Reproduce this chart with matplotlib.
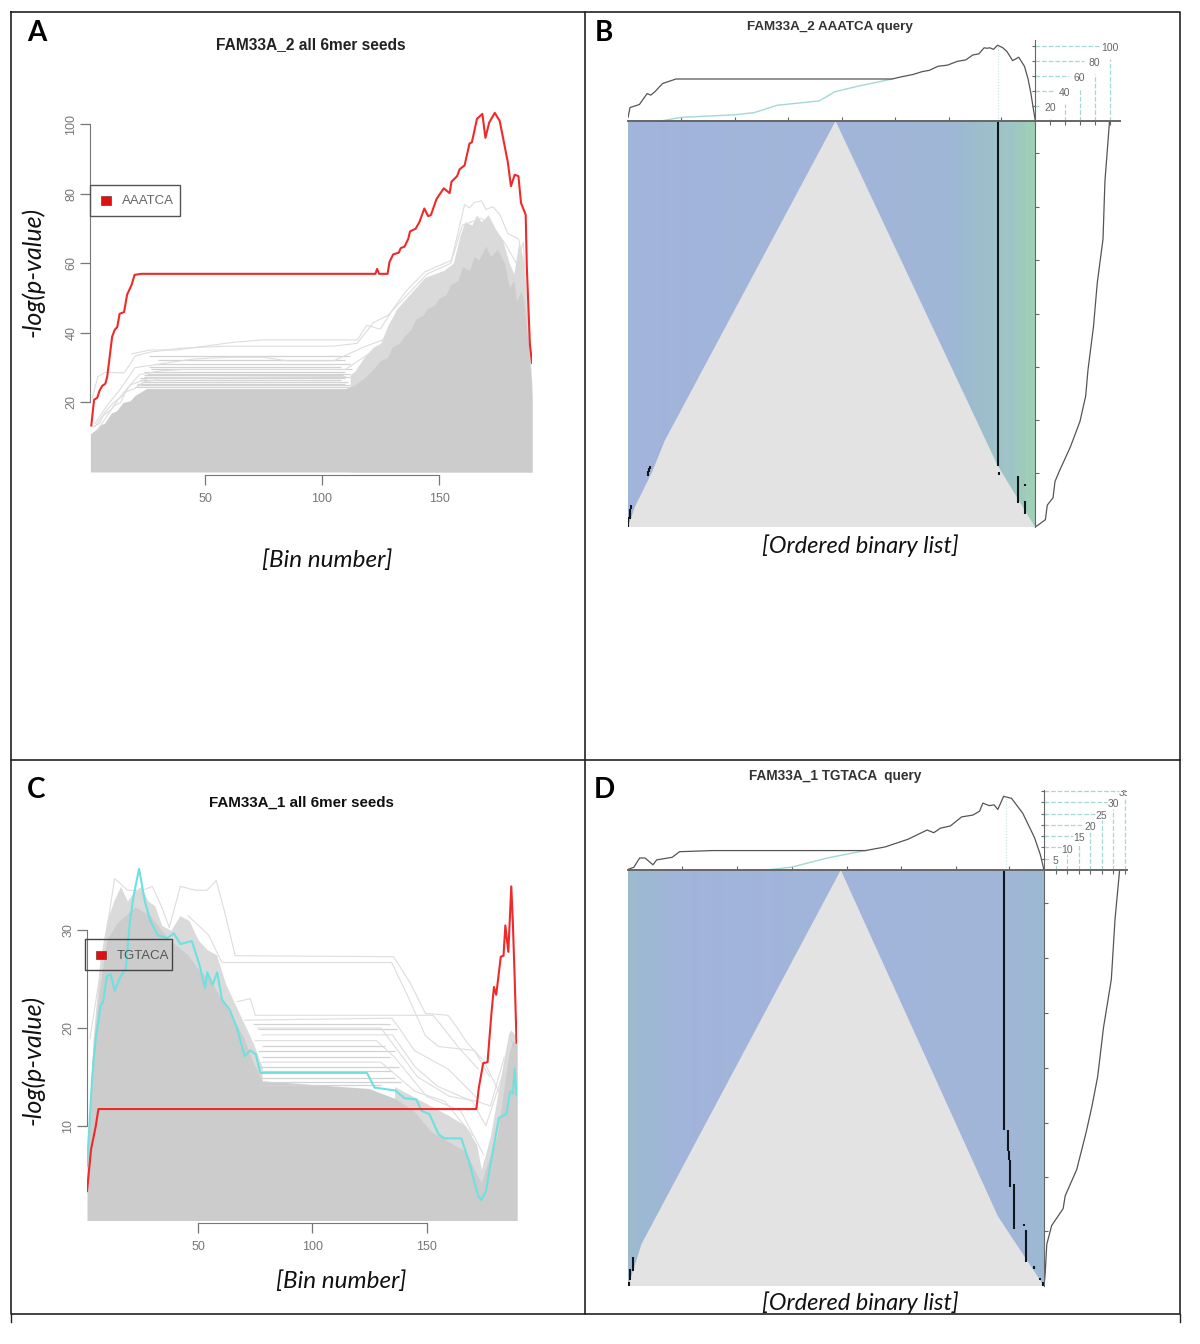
import matplotlib
matplotlib.use('Agg')
from matplotlib import pyplot as plt
from matplotlib.colors import LinearSegmentedColormap
from matplotlib.patches import Rectangle

W, H = 1200, 1344
plt.rcParams['font.family'] = ['Liberation Sans', 'DejaVu Sans']

# panel A, red seed AAATCA
a_red_x = [1.4, 2.6, 3.9, 5, 6.1, 7.4, 8.2, 9.3, 10.3, 11.4, 12.5, 13.5, 15.4, 16.7, 18.6, 19.9, 22.7, 122.8, 123.5, 124.4,
           128, 128.8, 130.4, 132.8, 133.6, 135.2, 136.8, 137.6, 140, 141.6, 143.7, 145.3, 146.5, 148.9, 152, 154.5, 155.3,
           157.7, 158.8, 160.9, 163, 164, 166.2, 168.5, 169.8, 171.4, 173.8, 175.9, 177.8, 179.4, 180.7, 182.3, 183.9, 185,
           187, 187.5, 188.8, 189.7]
a_red_y = [13.4, 20.8, 21.3, 23.5, 24.8, 25.4, 27.4, 33.4, 38.9, 40.9, 41.7, 45.5, 46, 51, 53.8, 56.7, 57, 57, 58.4, 57,
           57, 60.4, 62.6, 63.1, 64.4, 64.8, 67, 69.2, 70, 71.9, 75.8, 73.6, 73.9, 78.5, 81.6, 80.2, 83.5,
           85.1, 87.1, 88.2, 94.5, 94.8, 101.6, 103, 96.1, 100.5, 103.3, 101, 94.5, 89, 82.2, 85.5, 85.1, 77.4,
           74, 58.7, 36.7, 31.4]

# panel A, solid part of the grey seeds
a_env_x = [1, 3, 5, 7, 10, 12, 15, 18, 20, 25, 110, 114, 118, 121, 125, 128, 130, 133, 135, 138, 140, 143, 145, 148, 150, 153, 155,
           158, 160, 163, 165, 167, 170, 172, 175, 178, 180, 182, 183, 185, 186, 187, 188, 189.7]
a_env_y = [11, 12, 13.5, 14, 17, 17.5, 20, 20.5, 22, 24, 24, 25, 27, 29, 32, 33, 36, 37, 39, 41, 44, 45, 47, 48, 50, 51, 54,
           55, 59, 58, 62, 61, 65, 62, 64, 60, 53, 55, 49, 52, 50, 44, 38, 22]

# panel A, the fuzz of close lines above the solid part
a_fuzz_x = [112, 114, 118, 122, 125, 128, 132, 136, 140, 144, 148, 152, 156, 159, 161, 164, 166, 168, 171, 174, 177, 180, 182, 184, 186, 188, 189.7]
a_fuzz_y = [28, 29, 33, 36, 37, 42, 47, 50, 53, 56, 57, 58, 60, 68, 72, 71, 74, 72, 74, 70, 67, 60, 57, 66, 60, 42, 25]

# panel A, single grey seeds
a_grey1_x = [18.6, 26.7, 37.9, 62, 74.9, 115.1, 119.1, 124.8, 131.2, 136, 144, 155.3, 160.9, 163, 165, 168.2, 170, 173, 176, 179.4, 182.6, 184, 185.9, 189.4]
a_grey1_y = [34, 35.1, 35.1, 37.3, 38, 38, 42.2, 41.1, 47.7, 52.1, 57.6, 60.9, 76.9, 76, 77.5, 78, 75.5, 76.3, 74, 68.6, 67.5, 67, 60.9, 31.2]
a_grey2_x = [1.8, 4.2, 7.4, 15.4, 20.3, 26.7, 39.5, 58.8, 105, 115, 122, 128, 135, 145, 155, 160, 168, 172, 178, 183, 186, 188]
a_grey2_y = [21.3, 27.4, 28.7, 28.5, 33.4, 34.5, 35.6, 36.2, 36.2, 37, 43, 45, 50, 57, 60, 71, 73, 71, 66, 60, 66, 40]
a_grey3_x = [3, 8, 14, 20, 30, 45, 60, 75, 85, 105, 118, 126, 135]
a_grey3_y = [14, 19, 24, 30, 31, 32.5, 33, 33, 32, 32, 36, 38, 46]
a_grey4_x = [2, 5, 7, 11, 15, 18, 22, 30, 40, 110, 120]
a_grey4_y = [13, 14, 17, 20, 22, 25, 28, 29, 29.5, 29.5, 34]
a_grey5_x = [3, 6, 10, 13, 18, 22, 26, 110]
a_grey5_y = [13, 16, 18, 21, 25, 26, 27, 27.5]
a_grey6_x = [4, 8, 11, 14, 16, 20, 24, 30]
a_grey6_y = [12, 16, 19, 20, 23, 24, 26, 26.5]
a_flat_y = [33.4, 32.2, 31, 30.3, 29.7, 28.9, 28.2, 27.8, 27.3, 26.9, 26.4, 25.9, 25.4, 24.9, 24.4]
a_flat_start = [26, 30, 28, 26, 27, 24, 25, 24, 24, 22, 22, 23, 21, 21, 20]
a_flat_end = [112, 110, 112, 108, 113, 110, 112, 109, 112, 110, 108, 111, 110, 112, 112]

# panel C, red seed TGTACA
c_red_x = [1.3, 3.1, 5.1, 6.3, 171.8, 172.9, 174.8, 176.7, 178.4, 179.5, 180.5, 182.5, 183.7, 184.5, 185.8, 187.1, 187.8, 188.6, 189.4]
c_red_y = [3.3, 7.6, 9.9, 11.7, 11.7, 13.9, 16.4, 16.5, 21.5, 24.2, 23.4, 27.3, 27.4, 30.5, 27.8, 34.5, 30.7, 25, 18.5]

# panel C, cyan seed
c_cyan_x = [1.3, 3.5, 5.1, 7.3, 8.4, 10, 11.7, 13.4, 15.8, 18.3, 20, 21.6, 24.1, 26.6, 29, 32.3, 36.5, 39.3, 42.2, 47.2, 50.5,
            53, 54, 56.3, 58.3, 60.4, 63.7, 67, 70.3, 72.8, 75.2, 77.2, 123.9, 127.2, 136.3, 140.4, 145.4, 147.9, 151.2,
            155.3, 157.8, 165.2, 168.5, 172.6, 173.9, 175.9, 178.4, 181.7, 185, 186.6, 187.8, 188.6, 189.4]
c_cyan_y = [5.9, 14.7, 18.9, 22.3, 22.7, 25.3, 25.5, 23.8, 25.2, 26.1, 30.7, 33.4, 36.3, 33, 31, 29.5, 29.2, 29.7, 28.6, 28.9, 26.5,
            24.1, 25.7, 24.4, 25.7, 22.9, 21.9, 20, 17.1, 17.7, 17.3, 15.4, 15.4, 13.9, 13.6, 12.8, 12.7, 11.5, 11.2,
            9.1, 8.7, 8.7, 6.4, 2.8, 2.4, 3.2, 6.6, 10.8, 11.2, 13.5, 13.3, 15.8, 13.1]

# panel C, solid part of the grey seeds
c_env_x = [1.3, 3.5, 6.8, 10, 14.2, 22.4, 29, 37.3, 45.5, 50, 55, 60, 65, 70, 74, 78, 124.8, 136, 144, 152, 160, 167, 172, 174, 178, 181, 184, 187, 189.6]
c_env_y = [5.9, 17, 24, 29, 30.7, 32.4, 31.5, 29, 27.5, 26, 25, 23, 21, 19, 16.5, 14.6, 13.8, 12.8, 11.6, 9.4, 8.3, 7.4, 5, 4.2, 7, 9, 14, 18.8, 18.4]

# panel C, the fuzz of close lines above the solid part
c_fuzz_x = [2, 4, 7, 10, 13, 16, 19, 22, 25, 28, 31, 34, 38, 42, 46, 50, 54, 58, 62, 66, 70, 74, 78]
c_fuzz_y = [8, 19, 27, 31, 33, 34.5, 33, 34, 34.5, 33, 32.5, 30.5, 30, 31.5, 31, 29, 28, 27.5, 24.5, 22.5, 20.5, 18.5, 16]
c_fuzz2_x = [136, 144, 152, 160, 167, 172, 174, 178, 181, 184, 186, 187, 189.6]
c_fuzz2_y = [14, 13, 12, 11, 10, 8, 5.5, 9, 13, 17, 19.5, 19.8, 19]

# panel C, single grey seeds
c_grey1_x = [2.6, 13.4, 19.1, 25.7, 29.9, 34, 37.3, 42.2, 48.8, 53.8, 57.9, 62, 66.2, 135.5, 142.9, 149.5, 159.4, 163.5, 167.7, 175.1, 182.5]
c_grey1_y = [18.9, 35.3, 34.1, 34.1, 34.5, 32.4, 30.3, 34.5, 34.1, 34.1, 35.1, 31.5, 27.4, 27.3, 24.6, 21.5, 21.3, 20, 18.5, 16.6, 13.1]
c_grey2_x = [45.5, 54.6, 60.4, 134.7, 142.1, 149.5, 155.3, 171, 177.6]
c_grey2_y = [31.5, 29.5, 26.7, 26.7, 23.1, 19.2, 18.1, 17.7, 15]
c_grey3_x = [67, 72.8, 75, 152.8, 156, 164.4, 172.6]
c_grey3_y = [22.7, 23, 21.3, 21.3, 20.4, 17.9, 15.8]
c_grey4_x = [70.3, 134.7, 138, 144.6, 159.4, 171.8]
c_grey4_y = [20.8, 21, 20, 17.7, 15.8, 12.9]
c_grey5_x = [76, 130, 138, 146, 160, 172, 178, 184]
c_grey5_y = [20, 20, 17.5, 15, 13, 12.5, 12, 17]
c_grey6_x = [78, 135, 145, 155, 170, 176, 183, 188]
c_grey6_y = [19.3, 19.3, 16, 14, 12.5, 10, 15, 19]
c_grey7_x = [75, 128, 136, 150, 165, 175]
c_grey7_y = [18.7, 18.7, 17, 13, 11.5, 7]
c_grey8_x = [78, 130, 145, 158, 170]
c_grey8_y = [16.5, 16.5, 13.5, 12.5, 9]
c_flat_y = [20.4, 19.9, 18.2, 17.6, 17, 16, 15.6, 14.9, 14.5, 14.2]
c_flat_start = [74, 76, 78, 76, 78, 76, 78, 76, 78, 76]
c_flat_end = [134, 137, 132, 136, 134, 138, 135, 136, 139, 130]

# panel B
b_top_x = [0, .005, .028, .047, .056, .066, .085, .118, .649, .668, .7, .724, .74, .762, .785, .809, .83, .847, .862, .875, .882, .889, .898, .908, .92, .931, .945, .96, .974, .983, .99, 1]
b_top_y = [4.9, 18, 22, 36.6, 34.5, 39, 50, 56, 56, 58.5, 62, 66, 67.5, 73, 74.5, 79.5, 81.5, 88, 89.5, 97.6, 97, 97.6, 95.5, 101, 98, 92.7, 80.5, 85, 73, 56, 36.6, 2.4]
b_cyan_x = [.08, .132, .263, .31, .367, .47, .508, .564, .649]
b_cyan_y = [0, 4.9, 8.3, 11.2, 21, 26.8, 39, 46.3, 56]
b_side_val = [100, 93.8, 91.2, 83.5, 78.4, 71, 68, 60.3, 47.4, 32, 26.8, 24.2, 16.5, 13.9, 3.6, 0]
b_side_pos = [0, .148, .291, .399, .507, .614, .677, .74, .803, .865, .888, .928, .946, .982, .996, 1]
b_tri_x = [.51, .091, .058, .017, 0, 1, .908]
b_tri_y = [0, .786, .867, .95, 1, 1, .848]
b_ticks = [20, 40, 60, 80, 100]
b_stripes = [.08, .02, .1, .04, .12, .05, .14, .06, .12, .07, .18, .1, .2, .14, .22, .16, .14, .1, .12, .14, .2, .16,
             .22, .18, .24, .2, .28, .24, .3, .26, .32, .3, .45, .55, .6, .62, .7, .72, .85, .95]
b_marks_x = [.908, .958, .976, .976, .912, .049, .052, .054, .001, .004, .007]
b_marks_top = [0, .874, .937, .895, .865, .862, .855, .85, .975, .955, .945]
b_marks_bot = [.85, .942, .969, .9, .872, .875, .865, .857, 1, .98, .955]

# panel D
d_top_x = [0, .014, .028, .041, .06, .069, .106, .124, .203, .571, .618, .673, .7, .719, .735, .751, .775, .802, .829, .845, .853, .868, .88, .889, .903, .922, .949, .977, .991, 1]
d_top_y = [.3, 1.2, 5.3, 5.3, 2.3, 4.5, 5.6, 8.1, 8.6, 8.6, 10.2, 13.6, 16, 17.7, 16.5, 18.5, 19.5, 23.5, 24.3, 26, 29.6, 28.5, 28.8, 26.8, 32.6, 31.7, 25.1, 14.4, 6.9, 0]
d_cyan_x = [.069, .33, .392, .479, .571]
d_cyan_y = [0, 0, 1.2, 5.3, 8.6]
d_side_val = [32.8, 30.8, 29.2, 25.8, 23.3, 20.8, 18.3, 14.2, 9.2, 8.3, 3.3, 1.2, .5, 0]
d_side_pos = [0, .119, .263, .379, .496, .568, .63, .72, .783, .814, .855, .9, .971, 1]
d_tri_x = [.5115, .032, .015, 0, 1, .889]
d_tri_y = [0, .9, .955, 1, 1, .832]
d_ticks = [5, 10, 15, 20, 25, 30, 35]
d_stripes = [.55, .5, .45, .3, .15, .1, .05, .12, .04, .1, .06, .12, .03, .1, .05, .12, .08, .1, .06, .08, .1, .12,
             .14, .1, .12, .08, .14, .1, .16, .18, .2, .22, .24, .28, .2, .22, .3, .35, .42, .5]
d_marks_x = [.905, .914, .917, .919, .928, .952, .957, .975, .99, .998, .012, .005, .002]
d_marks_top = [0, .626, .675, .698, .756, .85, .865, .952, .98, .99, .93, .96, .99]
d_marks_bot = [.626, .675, .698, .761, .862, .855, .943, .958, .985, 1, .965, .985, 1]

# tick places along the ordered list
list_ticks = [.079, .211, .343, .476, .607, .737, .868]

stripe_map = LinearSegmentedColormap.from_list('stripes', ['#a2b3dc', '#9db8d2', '#9fd2b4'])


def px_axes(fig, x0, y0, x1, y1, **kw):
    # axes box given in pixels from the top left corner
    return fig.add_axes([x0 / W, 1 - y1 / H, (x1 - x0) / W, (y1 - y0) / H], **kw)


def seed_panel(box, xlim, ylim, xticks, yticks, env, fuzz, greys, flat, red, cyan=None):
    ax = px_axes(fig, *box)
    ax.patch.set_alpha(0)
    for fx, fy in fuzz:
        ax.fill_between(fx, 0, fy, color='#dadada', lw=0)
    ax.fill_between(env[0], 0, env[1], color='#cccccc', lw=0)
    ax.hlines(flat[0], flat[1], flat[2], color='#d2d2d2', lw=0.9)
    for gx, gy in greys:
        ax.plot(gx, gy, color='#dddddd', lw=0.8)
    if cyan is not None:
        ax.plot(cyan[0], cyan[1], color='#6fe0e0', lw=1.5)
    ax.plot(red[0], red[1], color='#ee2a2a', lw=1.5)
    ax.set_xlim(*xlim)
    ax.set_ylim(*ylim)
    ax.set_xticks(xticks)
    ax.set_yticks(yticks)
    ax.tick_params(colors='#777777', labelsize=9, length=7, width=0.9)
    ax.tick_params(axis='x', pad=6)
    ax.tick_params(axis='y', pad=2)
    plt.setp(ax.get_yticklabels(), rotation=90, va='center')
    for s in ['top', 'right']:
        ax.spines[s].set_visible(False)
    ax.spines['left'].set_bounds(yticks[0], yticks[-1])
    ax.spines['bottom'].set_bounds(xticks[0], xticks[-1])
    ax.spines['bottom'].set_position(('outward', 2))
    ax.spines['left'].set_color('#777777')
    ax.spines['bottom'].set_color('#777777')
    return ax


def query_panel(heat, top_h, corner_w, ymax, xmax, stripes, tri, top, cyan, side, ticks, marks, peak, gaps, lab_y):
    x0, y0, x1, y1 = heat
    ax = px_axes(fig, x0, y0, x1, y1)
    edges = [i / len(stripes) for i in range(len(stripes) + 1)]
    ax.pcolormesh(edges, [0, 1], [stripes], cmap=stripe_map, vmin=0, vmax=1)
    ax.fill(tri[0], tri[1], color='#e3e3e3', lw=0)
    ax.vlines(marks[0], marks[1], marks[2], color='#10141c', lw=1.5)
    ax.set_xlim(0, 1)
    ax.set_ylim(1, 0)
    ax.axis('off')

    # running score on top
    at = px_axes(fig, x0, y0 - top_h, x1, y0)
    at.plot(cyan[0], cyan[1], color='#a4d8d4', lw=1)
    at.plot(top[0], top[1], color='#555555', lw=0.9)
    at.vlines(peak, 0, max(top[1]), color='#bfe6e2', lw=0.8, linestyles=':')
    at.set_xlim(0, 1)
    at.set_ylim(0, ymax)
    at.set_yticks([])
    at.set_xticks([.13, .262, .394, .527, .657, .788, .917])
    at.set_xticklabels([])
    at.tick_params(axis='x', direction='in', length=3, color='#666666', width=0.8)
    for s in ['top', 'left', 'right']:
        at.spines[s].set_visible(False)
    at.spines['bottom'].set_color('#666666')
    at.spines['bottom'].set_linewidth(1.4)
    at.patch.set_alpha(0)

    # running score at the side
    az = px_axes(fig, x1, y0, x1 + corner_w, y1)
    az.plot(side[0], side[1], color='#555555', lw=0.9)
    az.set_xlim(0, xmax)
    az.set_ylim(1, 0)
    az.set_xticks([])
    az.set_yticks(list_ticks)
    az.set_yticklabels([])
    az.tick_params(axis='y', direction='in', length=3, color='#666666', width=0.8)
    for s in ['top', 'bottom', 'right']:
        az.spines[s].set_visible(False)
    az.spines['left'].set_color('#666666')
    az.patch.set_alpha(0)

    # corner scale
    ac = px_axes(fig, x1, y0 - top_h, x1 + corner_w, y0)
    for v in ticks:
        ac.plot([0, v - gaps[0]], [v, v], color='#a4d8d4', lw=0.9, ls='--')
        ac.plot([v, v], [0, v - gaps[1]], color='#a4d8d4', lw=0.9, ls='--')
        ac.text(v, v - lab_y, str(v), fontsize=7.5, color='#666666', ha='center', va='center', clip_on=True)
    ac.set_xlim(0, xmax)
    ac.set_ylim(0, ymax)
    ac.set_xticks(ticks)
    ac.set_yticks(ticks)
    ac.set_xticklabels([])
    ac.set_yticklabels([])
    ac.tick_params(axis='x', direction='out', length=3, color='#666666', width=0.8)
    ac.tick_params(axis='y', direction='inout', length=5, color='#666666', width=0.8)
    for s in ['top', 'right']:
        ac.spines[s].set_visible(False)
    ac.spines['left'].set_color('#666666')
    ac.spines['bottom'].set_color('#666666')
    ac.spines['bottom'].set_linewidth(1.4)
    ac.patch.set_alpha(0)


fig = plt.figure(figsize=(W / 100, H / 100), dpi=100, facecolor='white')

seed_panel((90, 100, 532, 472), (0.85, 189.7), (0, 107), [50, 100, 150], [20, 40, 60, 80, 100],
           (a_env_x, a_env_y), [(a_fuzz_x, a_fuzz_y)],
           [(a_grey1_x, a_grey1_y), (a_grey2_x, a_grey2_y), (a_grey3_x, a_grey3_y), (a_grey4_x, a_grey4_y),
            (a_grey5_x, a_grey5_y), (a_grey6_x, a_grey6_y)],
           (a_flat_y, a_flat_start, a_flat_end), (a_red_x, a_red_y))

seed_panel((87, 860, 517, 1220), (1.3, 189.6), (0.34, 37.2), [50, 100, 150], [10, 20, 30],
           (c_env_x, c_env_y), [(c_fuzz_x, c_fuzz_y), (c_fuzz2_x, c_fuzz2_y)],
           [(c_grey1_x, c_grey1_y), (c_grey2_x, c_grey2_y), (c_grey3_x, c_grey3_y), (c_grey4_x, c_grey4_y),
            (c_grey5_x, c_grey5_y), (c_grey6_x, c_grey6_y), (c_grey7_x, c_grey7_y), (c_grey8_x, c_grey8_y)],
           (c_flat_y, c_flat_start, c_flat_end), (c_red_x, c_red_y), (c_cyan_x, c_cyan_y))

query_panel((628, 121, 1035, 527), 81, 85, 108, 114, b_stripes, (b_tri_x, b_tri_y),
            (b_top_x, b_top_y), (b_cyan_x, b_cyan_y), (b_side_val, b_side_pos), b_ticks,
            (b_marks_x, b_marks_top, b_marks_bot), .908, (14, 17), 3)

query_panel((628, 870, 1044, 1286), 80, 83, 35.4, 36, d_stripes, (d_tri_x, d_tri_y),
            (d_top_x, d_top_y), (d_cyan_x, d_cyan_y), (d_side_val, d_side_pos), d_ticks,
            (d_marks_x, d_marks_top, d_marks_bot), .908, (2.5, 3), 1)

# frame, legends and text sit in pixel coordinates on top
top = fig.add_axes([0, 0, 1, 1])
top.set_xlim(0, W)
top.set_ylim(H, 0)
top.axis('off')
top.patch.set_alpha(0)

top.plot([11, 1180, 1180, 11, 11], [12, 12, 1314, 1314, 12], color='#222222', lw=1.2)
top.plot([11, 1180], [760, 760], color='#222222', lw=1.2)
top.plot([585, 585], [12, 1314], color='#222222', lw=1.2)
top.plot([11, 11], [1314, 1322], color='#222222', lw=1)
top.plot([1180, 1180], [1314, 1322], color='#222222', lw=1)

top.add_patch(Rectangle((90, 185), 90, 31, fill=False, ec='#555555', lw=1))
top.add_patch(Rectangle((101, 196), 10, 9, fc='#e01010', ec='#803030', lw=0.5))
top.text(122, 201, 'AAATCA', fontsize=9.5, color='#666666', va='center')
top.add_patch(Rectangle((85, 939), 87, 31, fill=False, ec='#444444', lw=1))
top.add_patch(Rectangle((96, 951), 10, 8, fc='#e01010', ec='#803030', lw=0.5))
top.text(117, 956, 'TGTACA', fontsize=9.5, color='#555555', va='center')

top.text(311, 45, 'FAM33A_2 all 6mer seeds', fontsize=11.2, fontweight='bold', color='#222222', ha='center', va='center')
top.text(830, 27, 'FAM33A_2 AAATCA query', fontsize=9.6, fontweight='bold', color='#333333', ha='center', va='center')
top.text(301, 803, 'FAM33A_1 all 6mer seeds', fontsize=10.9, fontweight='bold', color='#111111', ha='center', va='center')
top.text(835, 776, 'FAM33A_1 TGTACA  query', fontsize=9.8, fontweight='bold', color='#333333', ha='center', va='center')

for x, y, s in [(37, 33, 'A'), (604, 33, 'B'), (36, 790, 'C'), (604, 790, 'D')]:
    top.text(x, y, s, fontsize=20, fontweight='bold', family='Lato', color='black', ha='center', va='center')
for x, y, s in [(327, 560, '[Bin number]'), (860, 546, '[Ordered binary list]'),
                (341, 1281, '[Bin number]'), (860, 1303, '[Ordered binary list]')]:
    fs = 17.5 if 'Bin' in s else 17
    top.text(x, y, s, fontsize=fs, fontstyle='italic', family='Lato', color='#111111', ha='center', va='center')
for y in [272, 1060]:
    top.text(33, y, '-log(p-value)', fontsize=18, fontstyle='italic', family='Lato', color='#111111',
             rotation=90, ha='center', va='center')

fig.savefig('out.png', dpi=100)
